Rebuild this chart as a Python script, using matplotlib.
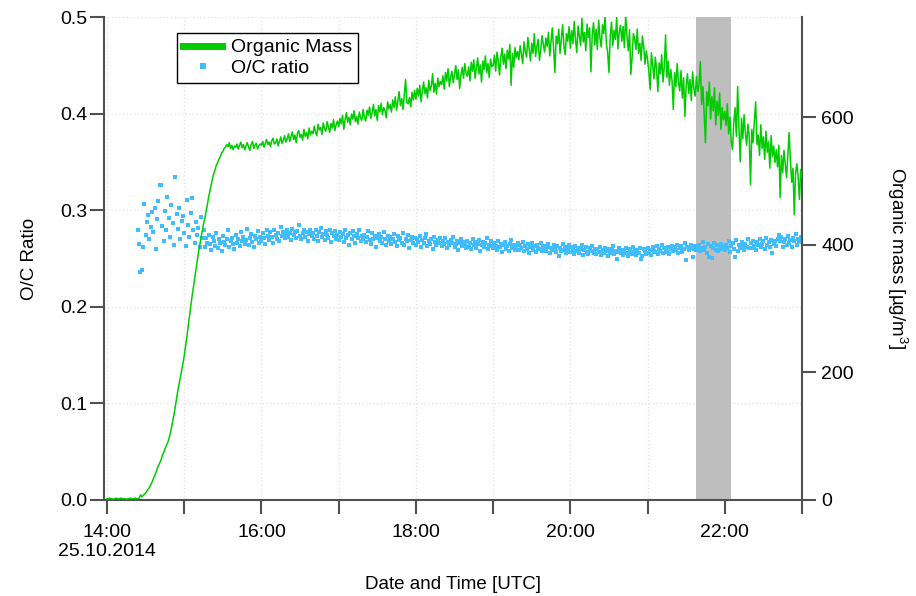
import pandas as pd
import matplotlib
matplotlib.use("Agg")
import matplotlib.pyplot as plt
from matplotlib.lines import Line2D

# Organic mass [ug/m3], one reading per minute, 14:00 -> 23:00
mass_start = "2014-10-25 14:00"
organic_mass = [
    2, 2, 3, 2, 2, 1, 2, 3, 2, 2, 2, 3, 2, 2, 2, 1, 2, 2, 3, 2,
    2, 2, 3, 2, 2, 3, 8, 5, 7, 9, 11, 14, 17, 20, 24, 28, 33, 38, 43, 49,
    54, 58, 63, 70, 74, 80, 85, 89, 95, 103, 112, 123, 133, 146, 160, 171, 182, 192, 203, 214,
    226, 240, 255, 271, 287, 302, 318, 332, 346, 360, 373, 387, 399, 411, 422, 433, 441, 452, 463, 475,
    485, 494, 504, 512, 518, 525, 529, 534, 538, 544, 546, 551, 553, 557, 554, 560, 551, 556, 549, 555,
    553, 558, 550, 556, 561, 552, 557, 549, 555, 560, 553, 548, 557, 562, 551, 556, 559, 550, 555, 558,
    556, 562, 553, 559, 565, 557, 561, 554, 563, 567, 558, 560, 566, 555, 562, 569, 559, 564, 571, 561,
    566, 574, 562, 570, 577, 565, 572, 560, 575, 579, 568, 573, 564, 581, 570, 576, 566, 583, 572, 578,
    574, 586, 577, 571, 589, 580, 584, 573, 591, 582, 578, 593, 585, 576, 590, 583, 596, 579, 588, 594,
    585, 598, 590, 603, 581, 596, 607, 592, 600, 588, 605, 597, 610, 593, 601, 589, 608, 599, 595, 612,
    600, 594, 611, 603, 616, 598, 607, 620, 602, 612, 595, 618, 608, 622, 604, 615, 610, 599, 624, 613,
    620, 608, 627, 615, 632, 611, 625, 640, 618, 629, 612, 636, 659, 623, 621, 631, 616, 639, 627, 642,
    628, 645, 633, 650, 624, 641, 655, 637, 646, 630, 658, 642, 649, 668, 639, 653, 636, 661, 648, 656,
    651, 665, 644, 670, 657, 676, 648, 663, 672, 654, 668, 681, 659, 674, 645, 666, 678, 661, 684, 669,
    664, 679, 657, 686, 672, 690, 661, 677, 693, 668, 682, 655, 688, 675, 696, 670, 684, 662, 691, 679,
    681, 697, 672, 702, 688, 666, 694, 708, 683, 699, 676, 705, 691, 714, 650, 700, 678, 709, 693, 703,
    690, 712, 699, 684, 718, 703, 694, 725, 707, 688, 716, 700, 731, 695, 711, 722, 689, 706, 728, 714,
    702, 724, 711, 733, 696, 719, 740, 707, 670, 727, 715, 738, 700, 722, 745, 712, 698, 731, 719, 742,
    708, 736, 715, 750, 722, 701, 743, 727, 712, 755, 718, 733, 704, 746, 725, 740, 671, 729, 748, 713,
    738, 706, 752, 724, 710, 745, 731, 758, 715, 702, 670, 727, 749, 712, 736, 722, 757, 707, 733, 744,
    719, 742, 709, 760, 728, 704, 737, 667, 694, 731, 722, 706, 738, 700, 716, 689, 727, 711, 683, 704,
    690, 672, 643, 701, 680, 660, 694, 676, 640, 685, 668, 698, 655, 679, 729, 662, 688, 650, 675, 658,
    612, 670, 648, 684, 655, 641, 673, 630, 662, 601, 650, 668, 637, 659, 626, 671, 645, 633, 664, 640,
    652, 687, 620, 648, 605, 560, 640, 618, 655, 597, 632, 610, 646, 588, 625, 603, 638, 581, 615, 596,
    609, 587, 621, 574, 600, 562, 549, 592, 615, 570, 648, 583, 530, 598, 566, 604, 575, 556, 589, 569,
    494, 581, 560, 595, 624, 557, 572, 540, 588, 551, 569, 534, 578, 545, 562, 520, 571, 538, 555, 529,
    549, 522, 556, 474, 540, 513, 548, 527, 505, 541, 576, 531, 498, 520, 447, 512, 527, 506, 471, 518,
    505,
]

# O/C ratio in per mille, one reading per minute, 14:24 -> 23:00
oc_start = "2014-10-25 14:24"
oc_permil = [
    280, 265, 236, 238, 262, 306, 274, 288, 295, 270, 283, 298, 277, 302, 260, 291, 310, 326, 326, 284,
    268, 299, 279, 314, 292, 272, 305, 287, 264, 334, 296, 281, 302, 270, 289, 294, 276, 263, 311, 285,
    272, 297, 313, 279, 266, 288, 274, 282, 262, 293, 271, 279,
    262, 271, 266, 274,
    265, 259, 272, 268, 263, 276, 261, 270, 266, 258, 273, 267, 264, 270, 279, 262, 268, 271, 265, 260,
    274, 266, 270, 263, 277, 268, 272, 265, 269, 281, 264, 271, 275, 267, 262, 273, 270, 278, 266, 272,
    268, 276, 271, 265, 279, 273, 269, 277, 272, 266, 280, 274, 270, 276, 268, 283, 273, 277, 271, 275,
    279, 272, 276, 269, 281, 274, 277, 271, 278, 285, 273, 270, 276, 280, 272, 277, 268, 275, 279, 273,
    276, 270, 279, 273, 268, 277, 282, 272, 275, 269, 278, 274, 271, 280, 267, 276, 273, 278, 270, 274,
    269, 277, 272, 275, 267, 280, 271, 274, 264, 276, 270, 278, 273, 266, 275, 271, 279, 268, 273, 270,
    274, 267, 272, 278, 269, 265, 276, 270, 273, 262, 271, 275, 268, 272, 266, 277, 270, 264, 273, 268,
    272, 265, 270, 275, 267, 263, 273, 269, 271, 266, 276, 264, 270, 268, 274, 261, 269, 272, 266, 271,
    264, 270, 267, 273, 262, 269, 266, 271, 275, 263, 268, 265, 270, 260, 272, 267, 264, 269, 266, 271,
    263, 268, 265, 271, 261, 267, 264, 269, 266, 272, 262, 265, 268, 259, 266, 270, 263, 267, 264, 261,
    268, 262, 266, 260, 270, 264, 267, 261, 265, 269, 258, 264, 267, 262, 266, 271, 260, 264, 268, 263,
    261, 266, 263, 259, 268, 262, 265, 257, 264, 267, 260, 263, 258, 265, 269, 261, 264, 259, 262, 266,
    259, 264, 261, 267, 258, 263, 260, 265, 256, 262, 266, 259, 263, 257, 264, 261, 260, 266, 258, 262,
    263, 258, 262, 265, 256, 261, 259, 264, 260, 257, 263, 253, 261, 258, 265, 259, 262, 256, 260, 264,
    257, 262, 259, 255, 263, 258, 261, 256, 260, 264, 254, 259, 262, 257, 255, 261, 258, 263, 256, 260,
    255, 260, 257, 262, 254, 259, 256, 261, 258, 253, 260, 256, 259, 263, 255, 258, 250, 257, 261, 256,
    259, 254, 258, 261, 256, 253, 260, 257, 255, 262, 258, 254, 259, 256, 261, 250, 253, 260, 258, 255,
    261, 256, 259, 254, 262, 258, 257, 263, 255, 260, 258, 264, 256, 261, 259, 257, 262, 255, 260, 263,
    258, 262, 259, 264, 256, 261, 263, 257, 260, 266, 248, 262, 259, 261, 264, 252, 260, 263, 259, 262,
    264, 258, 261, 267, 259, 262, 256, 265, 252, 263, 251, 261, 266, 259, 264, 258, 262, 265, 260, 263,
    259, 264, 261, 268, 257, 263, 266, 260, 252, 269, 258, 264, 261, 267, 263, 259, 265, 262, 270, 261,
    266, 261, 268, 263, 259, 267, 264, 270, 262, 265, 268, 260, 271, 264, 267, 262, 269, 256, 265, 268,
    263, 270, 274, 268, 272, 262, 267, 270, 264, 273, 266, 269, 262, 271, 268, 275, 264, 270, 267, 272,
    268,
]

# grey highlighted period
band_start = "2014-10-25 21:38"
band_end = "2014-10-25 22:05"

x_start = "2014-10-25 13:57:40"
x_end = "2014-10-25 23:00"

green = "#00CC00"
blue = "#40BDFF"
spine_col = "#505050"

plt.rcParams["font.family"] = ["Liberation Sans", "DejaVu Sans"]
plt.rcParams["mathtext.fontset"] = "custom"
plt.rcParams["mathtext.rm"] = "Liberation Sans"
plt.rcParams["font.size"] = 14


def style_spines(axis, keep):
    for name, sp in axis.spines.items():
        sp.set_visible(name in keep)
        sp.set_color(spine_col)
        sp.set_linewidth(1.5)


def main():
    t_mass = pd.date_range(mass_start, periods=len(organic_mass), freq="min")
    t_oc = pd.date_range(oc_start, periods=len(oc_permil), freq="min")
    oc_ratio = [v / 1000 for v in oc_permil]

    fig = plt.figure(figsize=(9.16, 5.96), dpi=100)
    ax = fig.add_axes([104 / 916, 96 / 596, 698 / 916, 483 / 596])
    ax2 = ax.twinx()

    ax.set_axisbelow(True)
    ax.axvspan(pd.Timestamp(band_start), pd.Timestamp(band_end), color="#bebebe", lw=0, zorder=0.8)
    ax.plot(t_oc, oc_ratio, ls="none", marker="s", ms=2.5, mew=0, color=blue, zorder=2)
    ax2.plot(t_mass, organic_mass, color=green, lw=1.1, zorder=3)

    ax.set_xlim(pd.Timestamp(x_start), pd.Timestamp(x_end))
    ax.set_ylim(0, 0.5)
    ax2.set_ylim(0, 757)

    hours = pd.date_range("2014-10-25 14:00", "2014-10-25 23:00", freq="h")
    labels = []
    for h in hours:
        if h.hour == 14:
            labels.append("14:00\n25.10.2014")
        elif h.hour % 2 == 0:
            labels.append(h.strftime("%H:%M"))
        else:
            labels.append("")
    ax.set_xticks(hours)
    ax.set_xticklabels(labels, linespacing=1.15)

    ax.set_yticks([0.0, 0.1, 0.2, 0.3, 0.4, 0.5])
    ax.set_yticklabels(["0.0", "0.1", "0.2", "0.3", "0.4", "0.5"])
    ax2.set_yticks([0, 200, 400, 600])

    ax.grid(True, color="#e4e4e4", ls=":", lw=1.0)

    style_spines(ax, ["left", "bottom"])
    style_spines(ax2, ["right"])
    ax.tick_params(axis="both", direction="out", length=10, width=1.5, color=spine_col, pad=2)
    ax.tick_params(axis="x", pad=7)
    ax2.tick_params(axis="y", direction="out", length=10, width=1.5, color=spine_col, pad=4)

    ax.set_ylabel("O/C Ratio", fontsize=13.5, labelpad=16)
    ax2.set_ylabel("Organic mass [µg/m$^{3}$]", fontsize=13.5, rotation=270, labelpad=40)
    ax.set_xlabel("Date and Time [UTC]", fontsize=13.5, labelpad=12)

    handles = [
        Line2D([], [], color=green, lw=5),
        Line2D([], [], ls="none", marker="s", ms=4.5, mew=0, color=blue),
    ]
    leg = ax2.legend(handles, ["Organic Mass", "O/C ratio"], loc="upper left",
                     bbox_to_anchor=(0.105, 0.967), borderaxespad=0, fancybox=False,
                     framealpha=1, edgecolor="black", handlelength=2.0, handletextpad=0.45,
                     borderpad=0.3, labelspacing=0.15)
    leg.get_frame().set_linewidth(1.0)

    fig.savefig("out.png", dpi=100)


if __name__ == "__main__":
    main()
